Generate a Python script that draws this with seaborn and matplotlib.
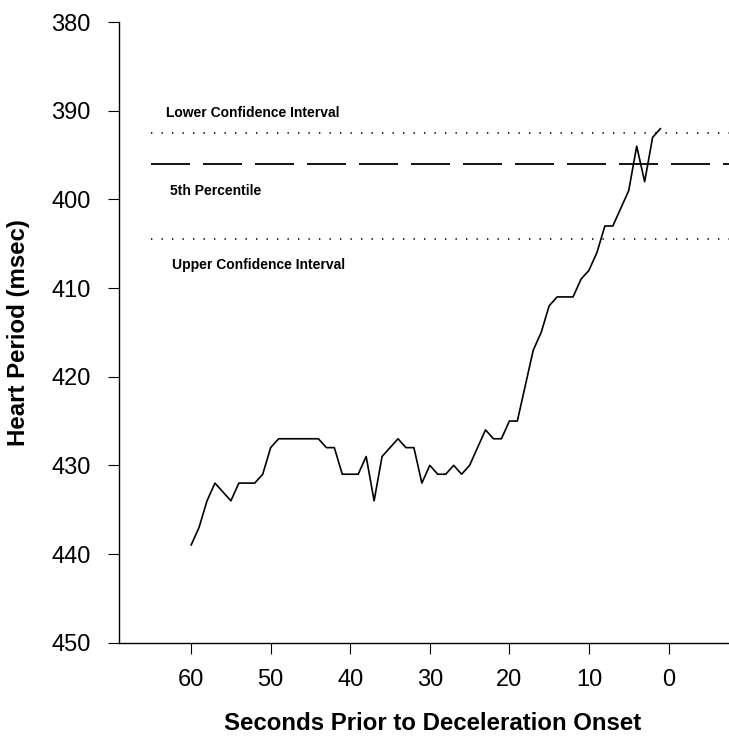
import numpy as np
import pandas as pd
import seaborn as sns
import matplotlib
matplotlib.use("Agg")
import matplotlib.pyplot as plt

# seconds before onset (60 -> 1) and heart period in msec
seconds = list(range(60, 0, -1))
heart_period = [439, 437, 434, 432, 433, 434, 432, 432, 432, 431,
                428, 427, 427, 427, 427, 427, 427, 428, 428, 431,
                431, 431, 429, 434, 429, 428, 427, 428, 428, 432,
                430, 431, 431, 430, 431, 430, 428, 426, 427, 427,
                425, 425, 421, 417, 415, 412, 411, 411, 411, 409,
                408, 406, 403, 403, 401, 399, 394, 398, 393, 392]

# reference lines
lower_ci = 392.5
pct5 = 396.0
upper_ci = 404.5
ref_start, ref_end = 65, -10

x_ticks = [60, 50, 40, 30, 20, 10, 0]
y_ticks = [380, 390, 400, 410, 420, 430, 440, 450]

df = pd.DataFrame({"sec": seconds, "hp": heart_period})

sns.set_theme(style="ticks")
plt.rcParams["font.family"] = ["Liberation Sans", "DejaVu Sans"]
plt.rcParams["text.color"] = "black"
plt.rcParams["axes.labelcolor"] = "black"

fig = plt.figure(figsize=(7.29, 7.37), dpi=100)
ax = fig.add_axes([0.1628, 0.128, 0.8372, 0.842])

sns.lineplot(data=df, x="sec", y="hp", color="black", linewidth=1.2, ax=ax)

# confidence interval / percentile lines
ax.hlines(lower_ci, ref_start, ref_end, colors="black", linewidth=1.2,
          linestyles=[(0, (0.8, 5.5))])
ax.hlines(upper_ci, ref_start, ref_end, colors="black", linewidth=1.2,
          linestyles=[(0, (0.8, 5.5))])
ax.hlines(pct5, ref_start, ref_end, colors="black", linewidth=1.3,
          linestyles=[(0, (21.6, 7.2))])

ax.text(63.1, 390.3, "Lower Confidence Interval", fontsize=10, fontweight="bold", va="center")
ax.text(62.6, 399.0, "5th Percentile", fontsize=10, fontweight="bold", va="center")
ax.text(62.4, 407.4, "Upper Confidence Interval", fontsize=10, fontweight="bold", va="center")

ax.set_xlim(69.1, -7.6)
ax.set_ylim(450, 380)
ax.set_xticks(x_ticks)
ax.set_yticks(y_ticks)
ax.tick_params(axis="both", labelsize=17, length=8, width=0.8, color="black",
               labelcolor="black")
ax.tick_params(axis="x", pad=11)
ax.tick_params(axis="y", pad=12)

ax.set_xlabel("Seconds Prior to Deceleration Onset", fontsize=17.3, fontweight="bold")
ax.set_ylabel("Heart Period (msec)", fontsize=17.3, fontweight="bold")
ax.xaxis.set_label_coords(0.515, -0.112)
ax.yaxis.set_label_coords(-0.145, 0.5)

for s in ["top", "right"]:
    ax.spines[s].set_visible(False)
for s in ["left", "bottom"]:
    ax.spines[s].set_color("black")
    ax.spines[s].set_linewidth(1.0)

fig.savefig("out.png", dpi=100, facecolor="white")
